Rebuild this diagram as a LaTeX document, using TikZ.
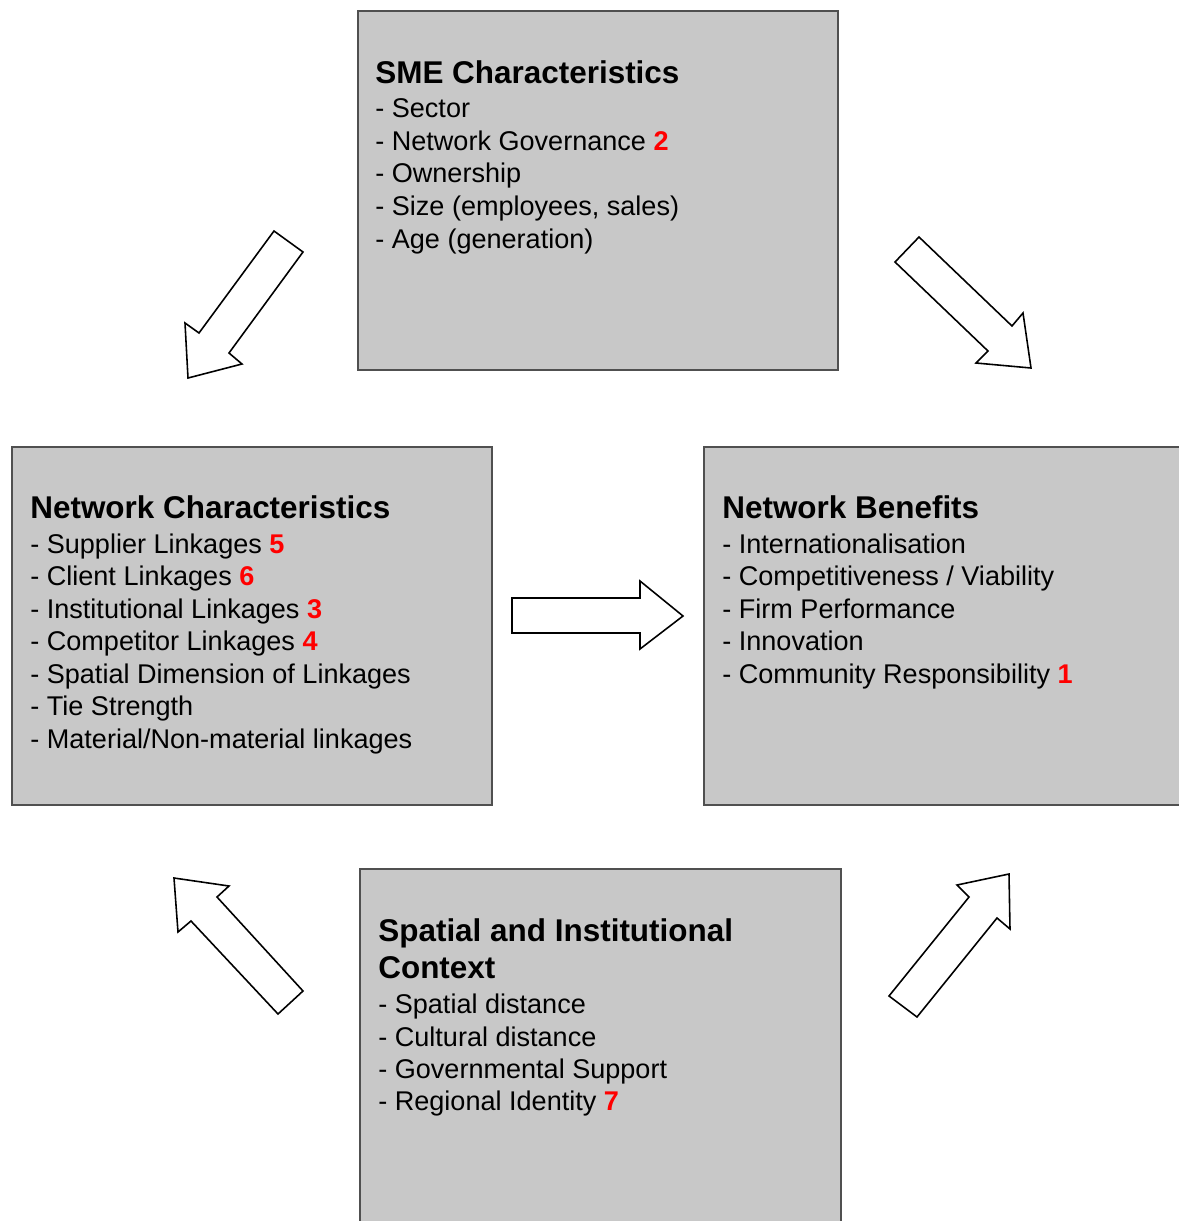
\documentclass[tikz,border=0pt]{standalone}
\usepackage{fontspec}
\setmainfont{Liberation Sans}
\definecolor{boxgray}{RGB}{200,200,200}
\definecolor{boxline}{RGB}{80,80,80}
\newcommand{\rn}[1]{\textcolor{red}{\textbf{#1}}}
\begin{document}
\begin{tikzpicture}[x=0.02cm,y=-0.02cm,
  box/.style={draw=boxline, line width=1.4pt, fill=boxgray, anchor=north west, inner sep=0pt},
  blockarrow/.style={draw=black, fill=white, line width=0.9pt, line join=miter},
  ttl/.style={anchor=base west, inner sep=0pt, font=\fontsize{17.9}{21}\selectfont\bfseries},
  itm/.style={anchor=base west, inner sep=0pt, font=\fontsize{15.4}{18}\selectfont}]
\useasboundingbox (0,0) rectangle (1179,1221);
\clip (0,0) rectangle (1179,1221);

% boxes
\node[box, minimum width=9.6cm, minimum height=7.18cm] (sme) at (357,10) {};
\node[box, minimum width=9.6cm, minimum height=7.16cm] (nc) at (11,446) {};
\node[box, minimum width=9.7cm, minimum height=7.16cm] (nb) at (703,446) {};
\node[box, minimum width=9.62cm, minimum height=7.3cm] (sic) at (359,868) {};

% SME characteristics
\node[ttl] (sme-t) at (375,83) {SME Characteristics};
\node[itm] (sme-1) at (375,117) {- Sector};
\node[itm] (sme-2) at (375,150) {- Network Governance \rn{2}};
\node[itm] (sme-3) at (375,182) {- Ownership};
\node[itm] (sme-4) at (375,215) {- Size (employees, sales)};
\node[itm] (sme-5) at (375,248) {- Age (generation)};

% Network characteristics
\node[ttl] (nc-t) at (30,518) {Network Characteristics};
\node[itm] (nc-1) at (30,553) {- Supplier Linkages \rn{5}};
\node[itm] (nc-2) at (30,585) {- Client Linkages \rn{6}};
\node[itm] (nc-3) at (30,618) {- Institutional Linkages \rn{3}};
\node[itm] (nc-4) at (30,650) {- Competitor Linkages \rn{4}};
\node[itm] (nc-5) at (30,683) {- Spatial Dimension of Linkages};
\node[itm] (nc-6) at (30,715) {- Tie Strength};
\node[itm] (nc-7) at (30,748) {- Material/Non-material linkages};

% Network benefits
\node[ttl] (nb-t) at (722,518) {Network Benefits};
\node[itm] (nb-1) at (722,553) {- Internationalisation};
\node[itm] (nb-2) at (722,585) {- Competitiveness / Viability};
\node[itm] (nb-3) at (722,618) {- Firm Performance};
\node[itm] (nb-4) at (722,650) {- Innovation};
\node[itm] (nb-5) at (722,683) {- Community Responsibility \rn{1}};

% Spatial and institutional context
\node[ttl] (sic-t1) at (378,941) {Spatial and Institutional};
\node[ttl] (sic-t2) at (378,978) {Context};
\node[itm] (sic-1) at (378,1013) {- Spatial distance};
\node[itm] (sic-2) at (378,1046) {- Cultural distance};
\node[itm] (sic-3) at (378,1078) {- Governmental Support};
\node[itm] (sic-4) at (378,1110) {- Regional Identity \rn{7}};

% block arrows
\draw[blockarrow] (274,231) -- (199,333) -- (185,323) -- (188,378) -- (242,364) -- (229,353) -- (303,252) -- cycle;
\draw[blockarrow] (919,237) -- (1012,326) -- (1023,313) -- (1031,368) -- (976,363) -- (988,351) -- (895,262) -- cycle;
\draw[blockarrow] (512,598) -- (640,598) -- (640,581) -- (683,616) -- (640,649) -- (640,633) -- (512,633) -- cycle;
\draw[blockarrow] (303,991) -- (217,897) -- (229,886) -- (174,878) -- (178,932) -- (191,921) -- (278,1014) -- cycle;
\draw[blockarrow] (889,996) -- (969,897) -- (957,885) -- (1009,874) -- (1010,929) -- (997,918) -- (917,1017) -- cycle;
\end{tikzpicture}
\end{document}
